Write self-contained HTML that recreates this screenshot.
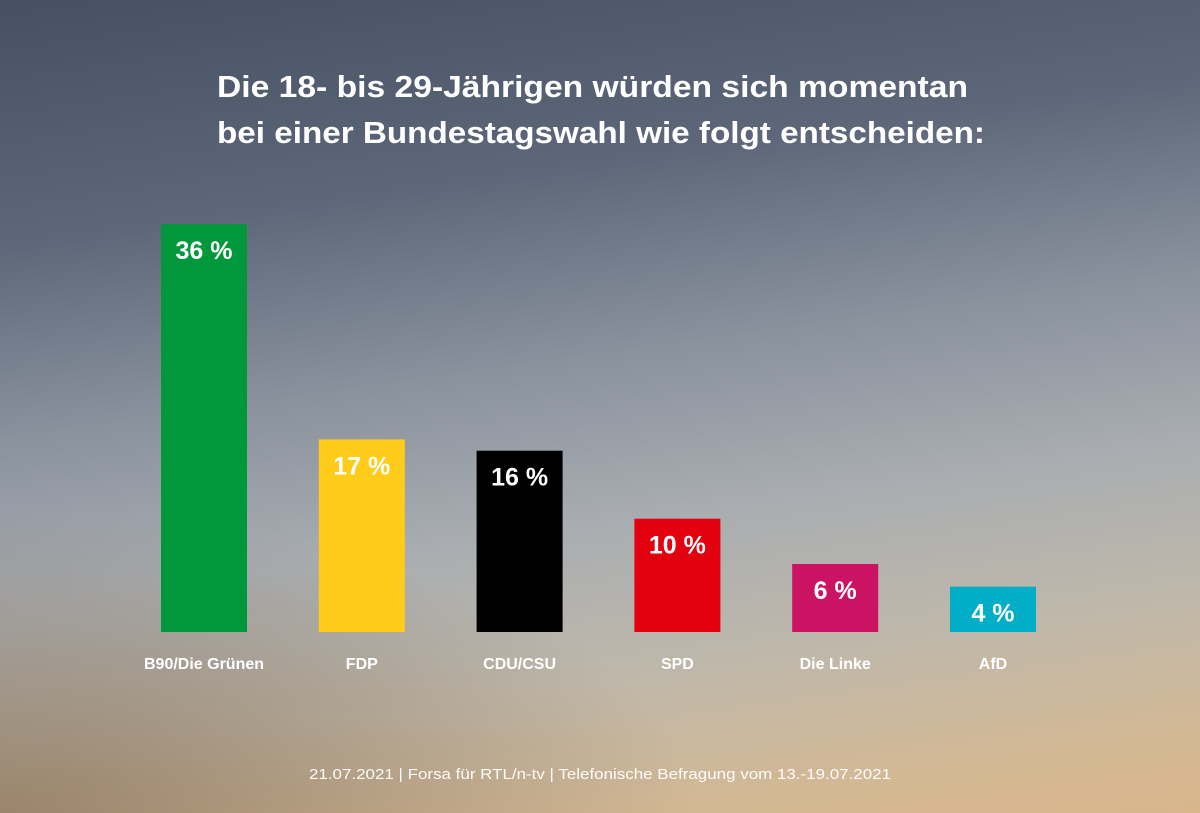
<!DOCTYPE html>
<html><head><meta charset="utf-8"><style>
html,body{margin:0;padding:0;width:1200px;height:813px;overflow:hidden}
body{background:linear-gradient(172deg,#465064 0%,#5d6779 25%,#8a929e 45%,#a9adb1 62%,#bfb8aa 78%,#d3b894 92%,#d9b68c 100%);position:relative}
#ov{position:absolute;left:0;top:0;width:1200px;height:813px;background:radial-gradient(ellipse 700px 300px at 0px 813px,rgba(120,90,60,0.55),rgba(120,90,60,0) 100%)}
svg{position:absolute;left:0;top:0}
text{font-family:"Liberation Sans",sans-serif;fill:#fff}
</style></head><body>
<div id="ov"></div>
<svg id="chart" width="1200" height="813">
<text x="217" y="97" font-size="31" font-weight="bold" textLength="751" lengthAdjust="spacingAndGlyphs">Die 18- bis 29-Jährigen würden sich momentan</text>
<text x="217" y="143" font-size="31" font-weight="bold" textLength="768" lengthAdjust="spacingAndGlyphs">bei einer Bundestagswahl wie folgt entscheiden:</text>
<text x="600" y="779" font-size="15" text-anchor="middle" textLength="582" lengthAdjust="spacingAndGlyphs" fill-opacity="0.95">21.07.2021 | Forsa für RTL/n-tv | Telefonische Befragung vom 13.-19.07.2021</text>
</svg>
<script>
const categories=["B90/Die Grünen","FDP","CDU/CSU","SPD","Die Linke","AfD"];
const values=[36,17,16,10,6,4];
const colors=["#00983a","#ffcc1a","#000000","#e3000f","#cc1263","#00aec7"];
const svg=document.getElementById('chart');
const NS="http://www.w3.org/2000/svg";
const baseY=632, pxPer=11.33, x0=161, step=157.8, bw=86;
const yScale=v=>baseY-v*pxPer;
const xScale=i=>x0+i*step;
values.forEach((v,i)=>{
  const x=xScale(i), y=yScale(v);
  const r=document.createElementNS(NS,'rect');
  r.setAttribute('x',x);r.setAttribute('y',y);r.setAttribute('width',bw);r.setAttribute('height',baseY-y);r.setAttribute('fill',colors[i]);
  
  
  svg.appendChild(r);
  const t=document.createElementNS(NS,'text');
  t.setAttribute('x',x+bw/2);t.setAttribute('y',y+35);t.setAttribute('text-anchor','middle');
  t.setAttribute('font-size','25');t.setAttribute('font-weight','bold');
  t.textContent=v+' %';
  
  
  svg.appendChild(t);
  const c=document.createElementNS(NS,'text');
  c.setAttribute('x',x+bw/2);c.setAttribute('y',669);c.setAttribute('text-anchor','middle');
  c.setAttribute('font-size','16');c.setAttribute('font-weight','bold');
  c.textContent=categories[i];
  
  
  svg.appendChild(c);
});
</script>
</body></html>
